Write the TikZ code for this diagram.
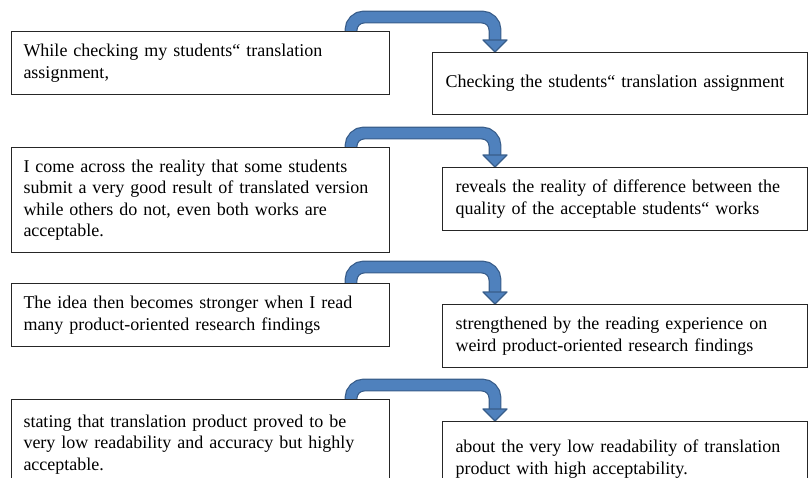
\documentclass[tikz,border=0pt]{standalone}
\usepackage{fontspec}
\setmainfont{Liberation Serif}
\usetikzlibrary{backgrounds}
\definecolor{arrowfill}{HTML}{4F81BD}
\definecolor{arrowedge}{HTML}{385D8A}
\begin{document}
\begin{tikzpicture}[x=1pt, y=-1pt, font=\fontsize{18}{21.5}\selectfont]
    \tikzstyle{box} = [draw=black!85, line width=1pt, fill=white, anchor=north west, align=left, inner ysep=0pt]
    \tikzstyle{leftbox} = [box, text width=354pt, inner xsep=12pt]
    \tikzstyle{rightbox} = [box, text width=339pt, inner xsep=13pt]
    \tikzstyle{shaft} = [draw=arrowedge, line width=1.2pt, double=arrowfill, double distance=10.5pt, rounded corners=13pt, shorten >=11pt]
    \tikzstyle{head} = [draw=arrowedge, line width=1.2pt, fill=arrowfill, line join=round]
    \useasboundingbox (0,0) rectangle (808,477);
    \node[leftbox, minimum height=63pt] (L1) at (11,31) {While checking my students“ translation\\assignment,};
    \node[leftbox, minimum height=105pt] (L2) at (11,147) {I come across the reality that some students\\submit a very good result of translated version\\while others do not, even both works are\\acceptable.};
    \node[leftbox, minimum height=63pt] (L3) at (11,283) {The idea then becomes stronger when I read\\many product-oriented research findings};
    \node[leftbox, minimum height=90pt] (L4) at (11,399) {stating that translation product proved to be\\very low readability and accuracy but highly\\acceptable.};
    \node[rightbox, minimum height=62pt, text width=349pt] (R1) at (432,52) {Checking the students“ translation assignment};
    \node[rightbox, minimum height=63pt] (R2) at (442,167) {reveals the reality of difference between the\\quality of the acceptable students“ works};
    \node[rightbox, minimum height=63pt] (R3) at (442,304) {strengthened by the reading experience on\\weird product-oriented research findings};
    \node[rightbox, minimum height=75pt] (R4) at (442,421) {about the very low readability of translation\\product with high acceptability.};
    \coordinate (up1) at (351,17);
    \coordinate (dn1) at (495,17);
    \coordinate (up2) at (351,133);
    \coordinate (dn2) at (495,133);
    \coordinate (up3) at (351,267);
    \coordinate (dn3) at (495,267);
    \coordinate (up4) at (351,385);
    \coordinate (dn4) at (495,385);
    \begin{scope}[on background layer]
        \draw[shaft] (L1.north -| up1) -- (up1) -- (dn1) -- (R1.north -| dn1);
        \draw[head] (R1.north -| dn1) -- ++(-12,-12) -- ++(24,0) -- cycle;
        \draw[shaft] (L2.north -| up2) -- (up2) -- (dn2) -- (R2.north -| dn2);
        \draw[head] (R2.north -| dn2) -- ++(-12,-12) -- ++(24,0) -- cycle;
        \draw[shaft] (L3.north -| up3) -- (up3) -- (dn3) -- (R3.north -| dn3);
        \draw[head] (R3.north -| dn3) -- ++(-12,-12) -- ++(24,0) -- cycle;
        \draw[shaft] (L4.north -| up4) -- (up4) -- (dn4) -- (R4.north -| dn4);
        \draw[head] (R4.north -| dn4) -- ++(-12,-12) -- ++(24,0) -- cycle;
    \end{scope}
\end{tikzpicture}
\end{document}
